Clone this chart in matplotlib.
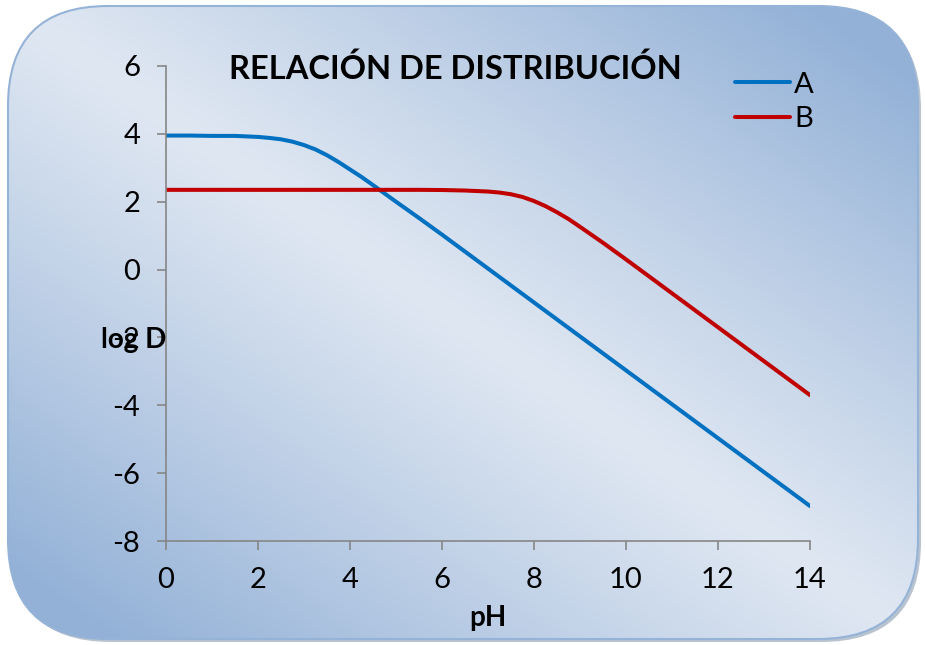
import numpy as np
import matplotlib
matplotlib.use('Agg')
import matplotlib.pyplot as plt
from matplotlib.patches import FancyBboxPatch
from matplotlib.colors import to_rgb

plt.rcParams['font.family'] = ['Lato', 'DejaVu Sans']

# datos
ph = [0, 0.5, 1, 1.5, 2, 2.25, 2.5, 2.75, 3, 3.25, 3.5, 3.75, 4, 4.25, 4.5, 5,
      5.5, 6, 6.5, 7, 7.25, 7.5, 7.75, 8, 8.25, 8.5, 8.75, 9, 9.5, 10,
      10.5, 11, 11.5, 12, 12.5, 13, 13.5, 14]
logd_a = [3.95, 3.95, 3.94, 3.94, 3.91, 3.88, 3.84, 3.77, 3.67, 3.54, 3.37, 3.17,
          2.95, 2.73, 2.49, 2.0, 1.52, 1.03, 0.53, 0.03, -0.22, -0.47, -0.72,
          -0.97, -1.22, -1.47, -1.72, -1.97, -2.47, -2.97, -3.47, -3.97, -4.47,
          -4.97, -5.47, -5.97, -6.47, -6.97]
logd_b = [2.35, 2.35, 2.35, 2.35, 2.35, 2.35, 2.35, 2.35, 2.35, 2.35, 2.35, 2.35,
          2.35, 2.35, 2.35, 2.35, 2.35, 2.345, 2.33, 2.30, 2.27, 2.22, 2.14,
          2.02, 1.87, 1.69, 1.49, 1.26, 0.79, 0.30, -0.20, -0.70, -1.20, -1.70,
          -2.20, -2.70, -3.20, -3.70]
series_names = ['A', 'B']
series_colors = ['#0070c0', '#c00000']
x_ticks = [0, 2, 4, 6, 8, 10, 12, 14]
y_ticks = [-8, -6, -4, -2, 0, 2, 4, 6]

W, H = 925, 645
fig = plt.figure(figsize=(W / 100, H / 100), dpi=100)
fig.patch.set_facecolor('white')

# fondo redondeado con degradado
bg = fig.add_axes([0, 0, 1, 1], zorder=0)
bg.set_xlim(0, W)
bg.set_ylim(H, 0)
bg.axis('off')

shadow = FancyBboxPatch((11, 9), 910, 633, boxstyle='round,pad=0,rounding_size=100',
                        fc='#8a9bb0', ec='none', alpha=0.6)
bg.add_patch(shadow)
box = FancyBboxPatch((8, 6), 910, 633, boxstyle='round,pad=0,rounding_size=100',
                     fc='none', ec='#95b3d7', lw=1.5)
bg.add_patch(box)

yy, xx = np.mgrid[0:H, 0:W]
# distancia a la diagonal superior-izquierda / inferior-derecha
d = (xx * H - yy * W) / np.hypot(W, H)
t = np.abs(d) / np.abs(d).max()
t = np.clip(t * 1.15, 0, 1) ** 1.1
light = np.array(to_rgb('#dfe7f2'))
dark = np.array(to_rgb('#93b1d7'))
img = light[None, None, :] + (dark - light)[None, None, :] * t[:, :, None]
im = bg.imshow(img, extent=[0, W, H, 0], aspect='auto', zorder=1)
im.set_clip_path(box)
box.set_zorder(2)

ax = fig.add_axes([166 / W, 1 - 541 / H, (810 - 166) / W, (541 - 66) / H], zorder=2)
ax.patch.set_alpha(0)

ax.plot(ph, logd_a, color=series_colors[0], lw=2.9, label=series_names[0], solid_capstyle='round')
ax.plot(ph, logd_b, color=series_colors[1], lw=2.9, label=series_names[1], solid_capstyle='round')

ax.set_xlim(0, 14)
ax.set_ylim(-8, 6)
ax.set_xticks(x_ticks)
ax.set_yticks(y_ticks)
ax.set_xticklabels([str(v) for v in x_ticks])
ax.set_yticklabels([str(v) for v in y_ticks])
for s in ['top', 'right']:
    ax.spines[s].set_visible(False)
for s in ['left', 'bottom']:
    ax.spines[s].set_color('#868686')
    ax.spines[s].set_linewidth(1.2)
ax.tick_params(axis='both', colors='#868686', length=6.5, width=1.2, labelsize=21,
               labelcolor='black', pad=12)

fig.text(455 / W, 1 - 69 / H, 'RELACIÓN DE DISTRIBUCIÓN', ha='center', va='center',
         fontsize=23.5, fontweight='bold')
fig.text(134 / W, 1 - 340 / H, 'log D', ha='center', va='center', fontsize=20,
         fontweight='bold', zorder=5)
fig.text(488 / W, 1 - 618 / H, 'pH', ha='center', va='center', fontsize=20,
         fontweight='bold')

ax.legend(loc='upper left', bbox_to_anchor=(720 / W, 1 - 57 / H), bbox_transform=fig.transFigure,
          frameon=False, fontsize=21, handlelength=1.9, handletextpad=0.15,
          labelspacing=0.3, borderpad=0)

fig.savefig('out.png', dpi=100)
